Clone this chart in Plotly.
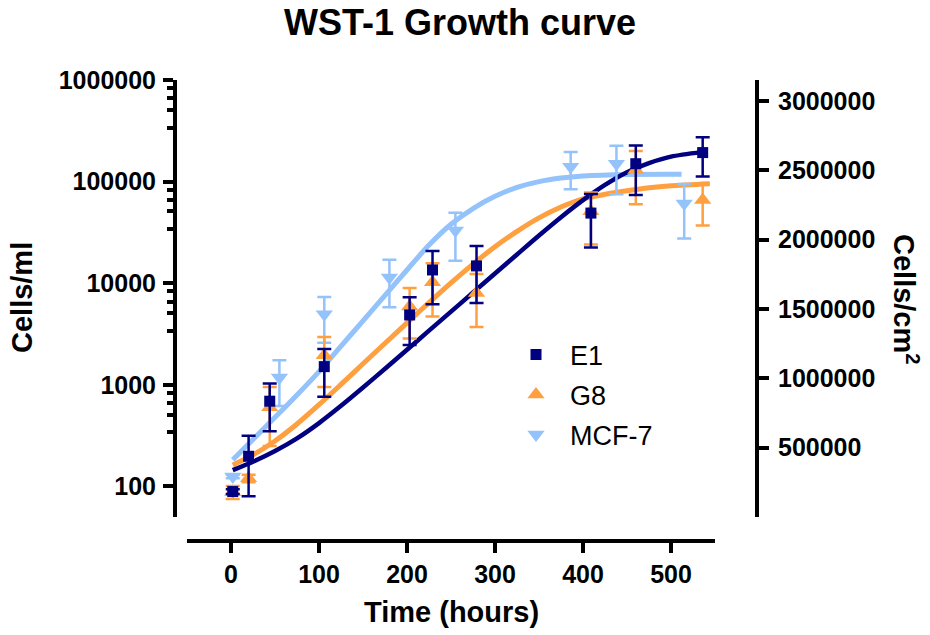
import plotly.graph_objects as go

# ---------------- data ----------------
time_E1 = [2, 20, 44, 106, 203, 229, 279, 409, 460, 536]
E1_mean = [89, 198, 690, 1510, 4870, 13500, 14800, 49000, 150000, 193000]
E1_sd = [5, 118, 340, 745, 2400, 7300, 8400, 26500, 76000, 81000]

time_G8 = [2, 20, 44, 106, 203, 229, 279, 409, 460, 536]
G8_mean = [88, 120, 600, 1950, 5900, 10200, 8000, 51000, 130000, 66000]
G8_sd = [13, 10, 350, 1000, 3050, 5500, 4300, 27000, 70000, 29000]

time_MCF7 = [2, 55, 106, 180, 255, 386, 438, 515]
MCF7_mean = [125, 1180, 4950, 11400, 33000, 140000, 150000, 61000]
MCF7_sd = [5, 560, 2350, 5600, 16400, 56000, 75000, 33500]

# fitted growth curves
E1_fit_t = [2, 25, 50, 75, 100, 125, 150, 175, 200, 225, 250, 275, 300, 325, 350, 375, 400, 425, 450, 475, 500, 535]
E1_fit_v = [144.5, 175, 223, 297, 420, 621, 940, 1439, 2213, 3412, 5248, 8091, 12450, 19190, 29510,
            44670, 65770, 92900, 123900, 152000, 176000, 195000]

G8_fit_t = [2, 25, 50, 75, 100, 125, 150, 175, 200, 225, 250, 275, 300, 325, 350, 375, 400, 425, 450, 475, 500, 544]
G8_fit_v = [162.6, 204.2, 279.9, 411.1, 636.8, 1009, 1611, 2564, 4074, 6442, 10070, 15420, 22860, 32360,
            43950, 56230, 67610, 74990, 81280, 87100, 91200, 95500]

MCF7_fit_t = [2, 25, 50, 75, 100, 125, 150, 175, 200, 225, 250, 275, 300, 325, 350, 375, 400, 450, 512]
MCF7_fit_v = [182.8, 289.7, 478.6, 794.3, 1349, 2399, 4266, 7586, 13490, 23710, 38020, 54330, 71610,
              87700, 100000, 108400, 113500, 117500, 118000]

# axes
x_ticks = [0, 100, 200, 300, 400, 500]
y_ticks = [100, 1000, 10000, 100000, 1000000]
y_minor_mult = [3.4, 5.1, 6.6, 8.3]
y2_ticks = [500000, 1000000, 1500000, 2000000, 2500000, 3000000]

colors = {"E1": "#000080", "G8": "#FFA040", "MCF-7": "#94C2FA"}

FONT = "Liberation Sans, Arial, Helvetica, sans-serif"

fig = go.Figure()

# curves
fig.add_trace(go.Scatter(x=MCF7_fit_t, y=MCF7_fit_v, mode="lines", showlegend=False,
                         line=dict(color=colors["MCF-7"], width=5, shape="spline", smoothing=0.8),
                         hoverinfo="skip"))
fig.add_trace(go.Scatter(x=G8_fit_t, y=G8_fit_v, mode="lines", showlegend=False,
                         line=dict(color=colors["G8"], width=5, shape="spline", smoothing=0.8),
                         hoverinfo="skip"))
fig.add_trace(go.Scatter(x=E1_fit_t, y=E1_fit_v, mode="lines", showlegend=False,
                         line=dict(color=colors["E1"], width=4.5, shape="spline", smoothing=0.8),
                         hoverinfo="skip"))


def err(arr, c):
    return dict(type="data", array=arr, color=c, thickness=2.5, width=7, visible=True)


fig.add_trace(go.Scatter(x=time_MCF7, y=MCF7_mean, mode="markers", name="MCF-7", legend="legend3",
                         marker=dict(symbol="triangle-down", size=15, color=colors["MCF-7"]),
                         error_y=err(MCF7_sd, colors["MCF-7"])))
fig.add_trace(go.Scatter(x=time_G8, y=G8_mean, mode="markers", name="G8", legend="legend2",
                         marker=dict(symbol="triangle-up", size=15, color=colors["G8"]),
                         error_y=err(G8_sd, colors["G8"])))
fig.add_trace(go.Scatter(x=time_E1, y=E1_mean, mode="markers", name="E1", legend="legend",
                         marker=dict(symbol="square", size=11, color=colors["E1"]),
                         error_y=err(E1_sd, colors["E1"])))

# placeholder trace so the right axis is drawn (no marks)
fig.add_trace(go.Scatter(x=[None], y=[None], yaxis="y2", showlegend=False, hoverinfo="skip"))

minor_vals = [m * d for d in y_ticks[:-1] for m in y_minor_mult]

W, H = 930, 635
L, R, T, B = 175, 930 - 757, 80, 635 - 541
PW = W - L - R
PH = H - T - B


def px_x(px):
    return (px - L) / PW


def px_y(py):
    return (T + PH - py) / PH


tickfont = dict(family=FONT, size=25, color="black", weight="bold")
legfont = dict(family=FONT, size=27, color="black")

fig.update_layout(
    width=W, height=H,
    margin=dict(l=L, r=R, t=T, b=B, pad=0),
    paper_bgcolor="white", plot_bgcolor="white",
    font=dict(family=FONT, color="black"),
    showlegend=True,
    xaxis=dict(
        domain=[px_x(187), px_x(715)], anchor="free", position=0,
        range=[-50, 550], tickvals=x_ticks, ticktext=[str(v) for v in x_ticks],
        showline=True, linecolor="black", linewidth=4,
        ticks="outside", ticklen=10, tickwidth=4, tickcolor="black",
        showgrid=False, zeroline=False, tickfont=tickfont,
    ),
    yaxis=dict(
        domain=[px_y(517), 1], anchor="free", position=0, type="log",
        range=[1.69897, 6.0], tickvals=y_ticks, ticktext=[str(v) for v in y_ticks],
        showline=True, linecolor="black", linewidth=4,
        ticks="outside", ticklen=10, tickwidth=4, tickcolor="black",
        minor=dict(tickvals=minor_vals, ticks="outside", ticklen=6, tickwidth=3.5,
                   tickcolor="black", showgrid=False),
        showgrid=False, zeroline=False, tickfont=tickfont, ticklabelstandoff=2,
    ),
    yaxis2=dict(
        domain=[px_y(517), 1], anchor="free", position=1, overlaying="y", side="right",
        range=[0, 3150000], tickvals=y2_ticks, ticktext=[str(v) for v in y2_ticks],
        showline=True, linecolor="black", linewidth=4,
        ticks="outside", ticklen=10, tickwidth=4, tickcolor="black",
        showgrid=False, zeroline=False, tickfont=tickfont, ticklabelstandoff=4,
    ),
    legend=dict(x=px_x(502), y=px_y(355), xanchor="left", yanchor="middle",
                font=legfont, itemwidth=58, bgcolor="rgba(0,0,0,0)"),
    legend2=dict(x=px_x(502), y=px_y(395), xanchor="left", yanchor="middle",
                 font=legfont, itemwidth=58, bgcolor="rgba(0,0,0,0)"),
    legend3=dict(x=px_x(502), y=px_y(435), xanchor="left", yanchor="middle",
                 font=legfont, itemwidth=58, bgcolor="rgba(0,0,0,0)"),
    annotations=[
        dict(text="WST-1 Growth curve", x=px_x(460), y=px_y(23), xref="paper", yref="paper",
             showarrow=False, xanchor="center", yanchor="middle",
             font=dict(family=FONT, size=36, color="black", weight="bold")),
        dict(text="Cells/ml", x=px_x(22), y=px_y(298), xref="paper", yref="paper",
             showarrow=False, xanchor="center", yanchor="middle", textangle=-90,
             font=dict(family=FONT, size=29, color="black", weight="bold")),
        dict(text="Cells/cm<sup>2</sup>", x=px_x(906), y=px_y(299), xref="paper", yref="paper",
             showarrow=False, xanchor="center", yanchor="middle", textangle=90,
             font=dict(family=FONT, size=29, color="black", weight="bold")),
        dict(text="Time (hours)", x=px_x(451), y=px_y(612), xref="paper", yref="paper",
             showarrow=False, xanchor="center", yanchor="middle",
             font=dict(family=FONT, size=29, color="black", weight="bold")),
    ],
)

fig.write_html("out.html",
               config={"displayModeBar": False},
               post_script="document.body.style.margin='0';document.body.style.padding='0';")
